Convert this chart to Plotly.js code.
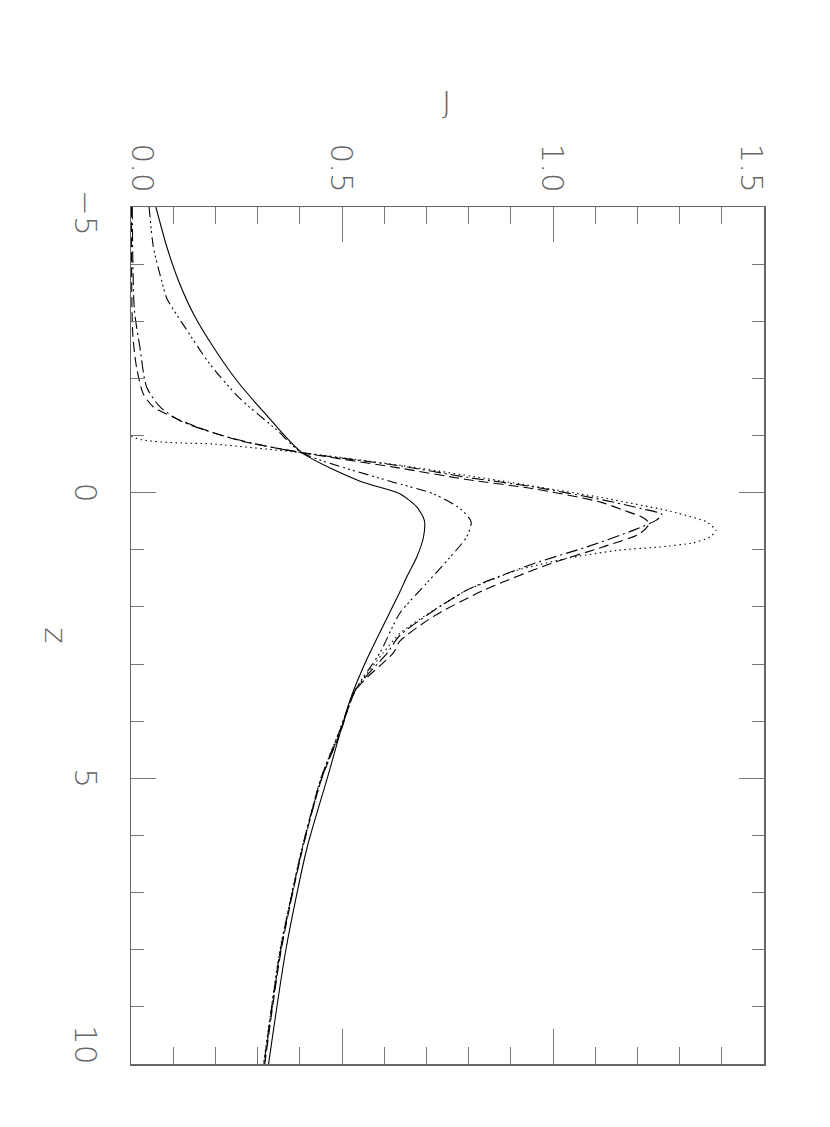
<!DOCTYPE html>
<html>
<head>
<meta charset="utf-8">
<script src="https://cdn.plot.ly/plotly-3.0.1.min.js"></script>
<style>
  body { margin: 0; background: #fff; }
  #chart { width: 830px; height: 1127px; }
</style>
</head>
<body>
<div id="chart"></div>
<script>
// z positions and J values, one pair of arrays per curve
const zSolid = [-5, -4.3, -3.7, -3.1, -2.55, -1.95, -1.4, -0.7, -0.2, 0.02, 0.25, 0.48, 0.78, 1.13, 1.48, 1.74, 2.93, 3.63, 5, 6.25, 8, 10];
const jSolid = [0.059, 0.085, 0.113, 0.15, 0.195, 0.252, 0.316, 0.405, 0.543, 0.637, 0.677, 0.695, 0.693, 0.677, 0.653, 0.637, 0.558, 0.519, 0.465, 0.416, 0.367, 0.326];

const zDotted = [-5, -1.0, -0.85, -0.7, -0.48, -0.21, 0.08, 0.31, 0.51, 0.66, 0.78, 0.88, 0.95, 1.01, 1.15, 1.36, 1.71, 2.06, 2.46, 2.8, 3.45, 4.2, 5, 6.25, 8, 10];
const jDotted = [0, 0, 0.2, 0.405, 0.637, 0.874, 1.111, 1.269, 1.364, 1.386, 1.372, 1.332, 1.253, 1.151, 1.032, 0.914, 0.795, 0.716, 0.637, 0.598, 0.532, 0.492, 0.45, 0.404, 0.353, 0.314];

const zDashed = [-5, -2.8, -2.2, -1.73, -1.5, -1.32, -1.09, -0.91, -0.7, -0.43, -0.23, -0.07, 0.17, 0.31, 0.43, 0.54, 0.72, 0.95, 1.24, 1.71, 2.17, 2.6, 2.8, 3.45, 4.2, 5, 6.25, 8, 10];
const jDashed = [0.001, 0.004, 0.013, 0.029, 0.053, 0.1, 0.179, 0.258, 0.405, 0.637, 0.795, 0.953, 1.115, 1.168, 1.212, 1.228, 1.205, 1.118, 0.995, 0.835, 0.716, 0.637, 0.622, 0.533, 0.496, 0.452, 0.406, 0.356, 0.317];

const zDashDot = [-5, -3.2, -2.55, -1.85, -1.5, -1.26, -1.03, -0.86, -0.7, -0.47, -0.27, -0.1, 0.13, 0.28, 0.38, 0.48, 0.66, 0.95, 1.24, 1.71, 2.5, 2.8, 3.45, 4.2, 5, 6.25, 8, 10];
const jDashDot = [0.003, 0.008, 0.021, 0.037, 0.069, 0.116, 0.203, 0.29, 0.405, 0.637, 0.795, 0.955, 1.12, 1.21, 1.258, 1.245, 1.19, 1.08, 0.955, 0.795, 0.637, 0.608, 0.532, 0.493, 0.45, 0.405, 0.354, 0.315];

const zDashDots = [-5, -4.3, -3.7, -3.4, -2.85, -2.25, -1.65, -1.1, -0.7, -0.2, 0.02, 0.28, 0.51, 0.78, 1.13, 1.59, 2.11, 2.8, 3.45, 4.2, 5, 6.25, 8, 10];
const jDashDots = [0.043, 0.053, 0.073, 0.085, 0.132, 0.187, 0.258, 0.345, 0.405, 0.614, 0.716, 0.78, 0.806, 0.795, 0.756, 0.70, 0.637, 0.59, 0.532, 0.495, 0.452, 0.405, 0.355, 0.316];

const jTicks = [0, 0.5, 1.0, 1.5];
const jTickText = ['0.0', '0.5', '1.0', '1.5'];
const zTicks = [-5, 0, 5, 10];
const zTickText = ['\u22125', '0', '5', '10'];

const axisFont = { family: 'DejaVu Sans ExtraLight, DejaVu Sans', size: 31, color: '#666', weight: 200 };

function curve(j, z, dash, smooth) {
    return {
        x: j, y: z,
        mode: 'lines', type: 'scatter',
        line: { color: '#000', width: 1.1, dash: dash, shape: 'spline', smoothing: smooth },
        hoverinfo: 'skip'
    };
}

const traces = [
    curve(jSolid, zSolid, 'solid', 0.7),
    curve(jDotted, zDotted, '1.5px,3.5px', 0.45),
    curve(jDashed, zDashed, '10px,5px', 0.7),
    curve(jDashDot, zDashDot, '12px,4px,2px,4px', 0.7),
    curve(jDashDots, zDashDots, '10px,4px,2px,3px,2px,3px,2px,4px', 0.7)
];

// tick labels placed as annotations so the end labels can sit inside the frame like in the original
const annotations = [];
jTicks.forEach((v, i) => {
    annotations.push({
        text: jTickText[i], xref: 'x', yref: 'paper', x: v, y: 1,
        yshift: 14, xshift: i === 0 ? 12 : (i === jTicks.length - 1 ? -12 : 0),
        xanchor: 'center', yanchor: 'bottom', textangle: 90,
        showarrow: false, font: axisFont, borderpad: 0
    });
});
zTicks.forEach((v, i) => {
    annotations.push({
        text: zTickText[i], xref: 'paper', yref: 'y', x: 0, y: v,
        xshift: -26, yshift: i === 0 ? -6 : (i === zTicks.length - 1 ? 20 : 0),
        xanchor: 'right', yanchor: 'middle', textangle: 90,
        showarrow: false, font: axisFont, borderpad: 0
    });
});
annotations.push({ text: 'J', xref: 'paper', yref: 'paper', x: 0.498, y: 1.122, showarrow: false, font: axisFont, xanchor: 'center', yanchor: 'middle' });
annotations.push({ text: 'z', xref: 'paper', yref: 'paper', x: -0.118, y: 0.5, showarrow: false, font: axisFont, textangle: 90, xanchor: 'center', yanchor: 'middle' });

const layout = {
    width: 830, height: 1127,
    margin: { l: 131, r: 66, t: 207, b: 63 },
    paper_bgcolor: '#fff', plot_bgcolor: '#fff',
    showlegend: false,
    xaxis: {
        side: 'top', range: [0, 1.5], showgrid: false, zeroline: false,
        showline: true, linecolor: '#666', linewidth: 1.5, mirror: 'allticks',
        tickmode: 'array', tickvals: jTicks, showticklabels: false,
        ticks: 'inside', ticklen: 35, tickwidth: 1, tickcolor: '#777',
        minor: { dtick: 0.1, tick0: 0, ticks: 'inside', ticklen: 17, tickwidth: 1, tickcolor: '#777', showgrid: false }
    },
    yaxis: {
        range: [10, -5], showgrid: false, zeroline: false,
        showline: true, linecolor: '#666', linewidth: 1.5, mirror: 'allticks',
        tickmode: 'array', tickvals: zTicks, showticklabels: false,
        ticks: 'inside', ticklen: 25, tickwidth: 1, tickcolor: '#777',
        minor: { dtick: 1, tick0: 0, ticks: 'inside', ticklen: 12.5, tickwidth: 1, tickcolor: '#777', showgrid: false }
    },
    annotations: annotations
};

Plotly.newPlot('chart', traces, layout, { displayModeBar: false, staticPlot: true });
</script>
</body>
</html>
